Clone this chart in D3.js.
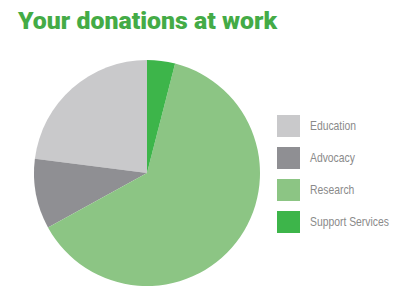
<!DOCTYPE html>
<html>
<head>
<meta charset="utf-8">
<script src="https://cdn.jsdelivr.net/npm/d3@7"></script>
<style>
  body { margin: 0; background: #fff; }
</style>
</head>
<body>
<svg id="chart" width="398" height="291"></svg>
<script>
// legend order, top to bottom
var categories = ['Education', 'Advocacy', 'Research', 'Support Services'];
var values = [23, 10, 63, 4];
var colours = ['#c9c9cb', '#8f8f93', '#8cc584', '#3db54a'];

var svg = d3.select('#chart');

svg.append('text')
	.attr('x', 18)
	.attr('y', 29)
	.attr('textLength', 259)
	.attr('lengthAdjust', 'spacingAndGlyphs')
	.style('font-family', 'Roboto, "Liberation Sans", Arial, sans-serif')
	.style('font-weight', 900)
	.style('font-size', '23px')
	.style('fill', '#44ab46')
	.text('Your donations at work');

var data = categories.map(function(c, i) { return {key: c, value: values[i], colour: colours[i]} });

// counter-clockwise from 12 o'clock so Support Services ends up just right of the top
var pie = d3.pie()
	.sort(null)
	.value(function(d) { return d.value })
	.startAngle(2 * Math.PI)
	.endAngle(0);

var arc = d3.arc().innerRadius(0).outerRadius(113);

var g = svg.append('g').attr('transform', 'translate(147,173)');

g.selectAll('.slice').data(pie(data))
	.enter().append('path')
	.attr('class', 'slice')
	.attr('d', arc)
	.style('fill', function(d) { return d.data.colour });

var legend = svg.append('g').attr('transform', 'translate(277,115)');

var item = legend.selectAll('.item').data(data)
	.enter().append('g')
	.attr('class', 'item')
	.attr('transform', function(d, i) { return 'translate(0,' + (i * 32) + ')' });

item.append('rect')
	.attr('width', 23)
	.attr('height', 22)
	.style('fill', function(d) { return d.colour });

// the original uses a condensed face, squeeze horizontally to match
item.append('text')
	.attr('transform', 'translate(33,15) scale(0.83,1)')
	.style('font-family', '"Liberation Sans", Arial, sans-serif')
	.style('font-size', '12.5px')
	.style('fill', '#8a8a8a')
	.text(function(d) { return d.key });
</script>
</body>
</html>
